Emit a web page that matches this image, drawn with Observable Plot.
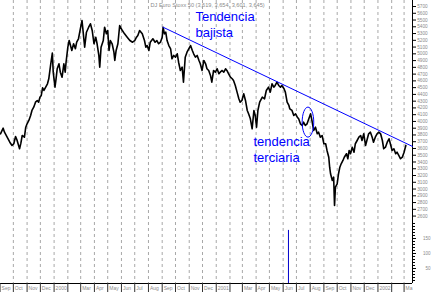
<!DOCTYPE html>
<html><head><meta charset="utf-8">
<script src="https://cdn.jsdelivr.net/npm/d3@7"></script>
<script src="https://cdn.jsdelivr.net/npm/@observablehq/plot@0.6"></script>
<style>
html,body{margin:0;padding:0;background:#fff;}
#chart{position:relative;width:434px;height:292px;overflow:hidden;background:#fff;}
#chart svg{position:absolute;left:0;}
</style></head><body><div id="chart"></div>
<script>
const dates = [
"1999-09-02","1999-09-08","1999-09-11","1999-09-17","1999-09-23","1999-09-28","1999-10-02","1999-10-06","1999-10-09","1999-10-15",
"1999-10-18","1999-10-21","1999-10-26","1999-10-29","1999-11-01","1999-11-05","1999-11-09","1999-11-12","1999-11-16","1999-11-20",
"1999-11-24","1999-11-27","1999-11-30","1999-12-03","1999-12-06","1999-12-09","1999-12-13","1999-12-17","1999-12-20","1999-12-24",
"1999-12-28","1999-12-30","2000-01-03","2000-01-05","2000-01-08","2000-01-12","2000-01-15","2000-01-19","2000-01-23","2000-01-26",
"2000-01-28","2000-02-01","2000-02-04","2000-02-07","2000-02-10","2000-02-14","2000-02-18","2000-02-21","2000-02-25","2000-03-01",
"2000-03-04","2000-03-07","2000-03-10","2000-03-14","2000-03-19","2000-03-23","2000-03-27","2000-03-31","2000-04-04","2000-04-07",
"2000-04-11","2000-04-13","2000-04-16","2000-04-21","2000-04-24","2000-04-28","2000-05-01","2000-05-04","2000-05-07","2000-05-11",
"2000-05-15","2000-05-17","2000-05-20","2000-05-24","2000-05-28","2000-06-03","2000-06-08","2000-06-14","2000-06-20","2000-06-26",
"2000-07-01","2000-07-05","2000-07-08","2000-07-12","2000-07-18","2000-07-23","2000-07-26","2000-07-29","2000-08-02","2000-08-05",
"2000-08-11","2000-08-16","2000-08-20","2000-08-24","2000-08-28","2000-09-01","2000-09-03","2000-09-06","2000-09-09","2000-09-12",
"2000-09-16","2000-09-20","2000-09-23","2000-09-27","2000-10-01","2000-10-05","2000-10-08","2000-10-12","2000-10-16","2000-10-19",
"2000-10-23","2000-10-27","2000-10-31","2000-11-04","2000-11-08","2000-11-11","2000-11-15","2000-11-19","2000-11-23","2000-11-26",
"2000-11-30","2000-12-04","2000-12-08","2000-12-11","2000-12-15","2000-12-19","2000-12-22","2000-12-26","2000-12-30","2001-01-03",
"2001-01-07","2001-01-10","2001-01-14","2001-01-18","2001-01-22","2001-01-25","2001-01-29","2001-02-02","2001-02-06","2001-02-09",
"2001-02-13","2001-02-17","2001-02-21","2001-02-24","2001-02-28","2001-03-04","2001-03-08","2001-03-12","2001-03-15","2001-03-19",
"2001-03-23","2001-03-27","2001-03-30","2001-04-02","2001-04-05","2001-04-09","2001-04-15","2001-04-20","2001-04-24","2001-04-29",
"2001-05-03","2001-05-07","2001-05-11","2001-05-14","2001-05-18","2001-05-22","2001-05-26","2001-05-29","2001-06-03","2001-06-06",
"2001-06-10","2001-06-14","2001-06-16","2001-06-21","2001-06-25","2001-06-29","2001-07-03","2001-07-06","2001-07-10","2001-07-14",
"2001-07-17","2001-07-21","2001-07-25","2001-07-29","2001-08-02","2001-08-05","2001-08-09","2001-08-13","2001-08-17","2001-08-20",
"2001-08-24","2001-08-28","2001-09-01","2001-09-05","2001-09-08","2001-09-12","2001-09-14","2001-09-16","2001-09-20","2001-09-23",
"2001-09-25","2001-09-27","2001-10-01","2001-10-04","2001-10-07","2001-10-10","2001-10-14","2001-10-17","2001-10-22","2001-10-25",
"2001-10-28","2001-10-31","2001-11-04","2001-11-08","2001-11-11","2001-11-15","2001-11-19","2001-11-23","2001-11-26","2001-11-30",
"2001-12-04","2001-12-07","2001-12-11","2001-12-15","2001-12-19","2001-12-22","2001-12-26","2001-12-30","2002-01-03","2002-01-07",
"2002-01-11","2002-01-14","2002-01-18","2002-01-22","2002-01-26","2002-01-29","2002-02-02","2002-02-06","2002-02-10","2002-02-13",
"2002-02-17","2002-02-21","2002-02-25","2002-03-01","2002-03-03","2002-03-05"
];
const prices = [
3817,3900,3841,3767,3693,3645,3670,3778,3729,3596,
3679,3792,3767,3915,3965,4014,4088,4162,4211,4285,
4310,4285,4359,4384,4498,4458,4507,4557,4631,4828,
5010,4729,4507,4606,4779,4853,4729,4655,4853,4729,
4876,5098,5197,5123,5050,5149,5075,5172,5223,5394,
5493,5296,5098,5320,5394,5444,5345,5149,5246,5149,
4976,4803,5098,5197,5394,5296,5345,5050,5197,5149,
5025,4902,5050,5149,5419,5345,5296,5246,5197,5172,
5197,5246,5271,5345,5296,5197,5098,5123,5050,5172,
5223,5172,5197,5149,5172,5246,5394,5296,5320,5197,
5123,5075,4927,4976,4951,5001,4876,4754,4803,4581,
4951,5025,5075,5123,5050,5001,4951,4976,4902,4853,
4754,4902,4853,4779,4754,4680,4581,4754,4729,4779,
4705,4729,4754,4729,4779,4754,4705,4655,4631,4606,
4532,4433,4335,4285,4310,4409,4310,4162,4113,4039,
3891,4162,4088,3915,4162,4285,4359,4335,4458,4507,
4433,4557,4507,4532,4581,4532,4507,4532,4483,4433,
4285,4236,4187,4162,4088,4113,4063,4039,3965,3940,
3989,3940,3965,4039,4113,4014,3866,3915,3817,3841,
3767,3792,3670,3670,3571,3471,3323,3226,3127,3176,
2757,3028,3078,3226,3323,3374,3423,3471,3522,3448,
3571,3522,3619,3545,3670,3718,3767,3792,3718,3817,
3644,3718,3817,3841,3767,3693,3767,3817,3841,3817,
3718,3596,3619,3693,3743,3670,3571,3596,3522,3545,
3497,3448,3471,3545,3596,3645
];
const title = "DJ Euro Stoxx 50 (3,619, 3,654, 3,601, 3,645)";
const trendDates = ["2000-09-03", "2002-03-20"];
const trendPrices = [5394, 3630];
const volumeDates = ["2001-06-13"];
const volumes = [177];
const monthTicks = [
"1999-09-01","1999-10-01","1999-11-01","1999-12-01","2000-01-01","2000-02-01","2000-03-01","2000-04-01","2000-05-01","2000-06-01",
"2000-07-01","2000-08-01","2000-09-01","2000-10-01","2000-11-01","2000-12-01","2001-01-01","2001-02-01","2001-03-01","2001-04-01",
"2001-05-01","2001-06-01","2001-07-01","2001-08-01","2001-09-01","2001-10-01","2001-11-01","2001-12-01","2002-01-01","2002-02-01","2002-03-01"
];
const monthLabels = [
"Sep","Oct","Nov","Dec","2000","","Mar","Apr","May","Jun",
"Jul","Aug","Sep","Oct","Nov","Dec","2001","","Mar","Apr",
"May","Jun","Jul","Aug","Sep","Oct","Nov","Dec","2002","","Ma"
];
const priceTicks = [2600,2700,2800,2900,3000,3100,3200,3300,3400,3500,3600,3700,3800,3900,4000,4100,4200,4300,4400,4500,4600,4700,4800,4900,5000,5100,5200,5300,5400,5500,5600,5700];
const volumeTicks = [50, 100, 150];
const volumeMinorTicks = [10,20,30,40,60,70,80,90,110,120,130,140,160,170,180,190,200];
const annotationTexts = ["Tendencia\nbajista", "tendencia\nterciaria"];
const annotationDates = ["2000-11-15", "2001-03-26"];
const annotationPrices = [5644, 3798];
const ellipseDate = "2001-07-27";
const ellipsePrice = 3990;

(function () {
const P = d => new Date(d + "T00:00:00Z");
const series = dates.map((d, i) => ({date: P(d), price: prices[i]}));
const trend = trendDates.map((d, i) => ({date: P(d), price: trendPrices[i]}));
const vol = volumeDates.map((d, i) => ({date: P(d), vol: volumes[i]}));
const months = monthTicks.map(P);
const gridMonths = months.slice(1);
const labelByTime = new Map(months.map((d, i) => [+d, monthLabels[i]]));
const notes = annotationTexts.map((t, i) => ({text: t, date: P(annotationDates[i]), price: annotationPrices[i]}));
const xEnd = P("2002-03-20");

const ellipseSymbol = {
  draw(ctx) {
    const rx = 5.8, ry = 15, k = 0.5523;
    ctx.moveTo(rx, 0);
    ctx.bezierCurveTo(rx, ry * k, rx * k, ry, 0, ry);
    ctx.bezierCurveTo(-rx * k, ry, -rx, ry * k, -rx, 0);
    ctx.bezierCurveTo(-rx, -ry * k, -rx * k, -ry, 0, -ry);
    ctx.bezierCurveTo(rx * k, -ry, rx, -ry * k, rx, 0);
    ctx.closePath();
  }
};

const xScale = {type: "utc", domain: [P("1999-09-01"), xEnd], range: [-0.44, 412]};
const style = {fontFamily: "'Liberation Sans', Arial, sans-serif", fontSize: "5px", background: "transparent", overflow: "visible"};
const grid = {stroke: "#a8a8a8", strokeOpacity: 1, strokeDasharray: "3,3", strokeWidth: 1};

const pricePlot = Plot.plot({
  width: 434, height: 222,
  marginLeft: 0, marginRight: 22, marginTop: 0, marginBottom: 0,
  x: {...xScale, axis: null, label: null},
  y: {domain: [2505, 5789], range: [222, 0], label: null},
  style,
  marks: [
    Plot.gridX(gridMonths, grid),
    Plot.ruleX([xEnd], {stroke: "black"}),
    Plot.axisY(priceTicks, {anchor: "right", label: null, tickSize: 3, tickPadding: 1.7, tickFormat: d => String(d), stroke: "black", fill: "#8a8a8a", fontSize: 4.7}),
    Plot.line(series, {x: "date", y: "price", stroke: "black", strokeWidth: 1.6}),
    Plot.line(trend, {x: "date", y: "price", stroke: "#0000ff", strokeWidth: 1}),
    Plot.dot([{date: P(ellipseDate), price: ellipsePrice}], {x: "date", y: "price", symbol: ellipseSymbol, stroke: "#0000ff", fill: "none", strokeWidth: 1}),
    Plot.text(notes, {x: "date", y: "price", text: "text", textAnchor: "start", lineAnchor: "top", lineHeight: 1.2, fontSize: 13, fill: "#0000ff"}),
    Plot.text([title], {frameAnchor: "top-left", dx: 150, dy: 5, textAnchor: "start", lineAnchor: "middle", fill: "#8a8a8a", fontSize: 5.6})
  ]
});

const volumePlot = Plot.plot({
  width: 434, height: 70,
  marginLeft: 0, marginRight: 22, marginTop: 0, marginBottom: 9,
  x: {...xScale, label: null},
  y: {domain: [0, 203.3], range: [61, 0], label: null},
  style,
  marks: [
    Plot.gridX(gridMonths, grid),
    Plot.ruleX(vol, {x: "date", y1: 0, y2: "vol", stroke: "#0000cc", strokeWidth: 1}),
    Plot.ruleX([xEnd], {stroke: "black"}),
    Plot.ruleY([0], {stroke: "black"}),
    Plot.axisY(volumeMinorTicks, {anchor: "right", label: null, tickSize: 2, tickFormat: () => "", stroke: "black"}),
    Plot.axisY(volumeTicks, {anchor: "right", label: null, tickSize: 3, tickPadding: 15, textAnchor: "end", tickFormat: d => String(d), stroke: "black", fill: "#8a8a8a", fontSize: 4.5}),
    Plot.axisX(months, {anchor: "bottom", label: null, tickSize: 9, tickFormat: () => "", stroke: "#333"}),
    Plot.axisX(months, {anchor: "bottom", label: null, tickSize: 0, tickPadding: 2.5, textAnchor: "start", dx: 1.5, tickFormat: d => labelByTime.get(+d), fill: "#8a8a8a", fontSize: 5})
  ]
});

pricePlot.style.top = "0px";
volumePlot.style.top = "222px";
const chart = document.getElementById("chart");
chart.appendChild(pricePlot);
chart.appendChild(volumePlot);
})();
</script>
</body></html>
